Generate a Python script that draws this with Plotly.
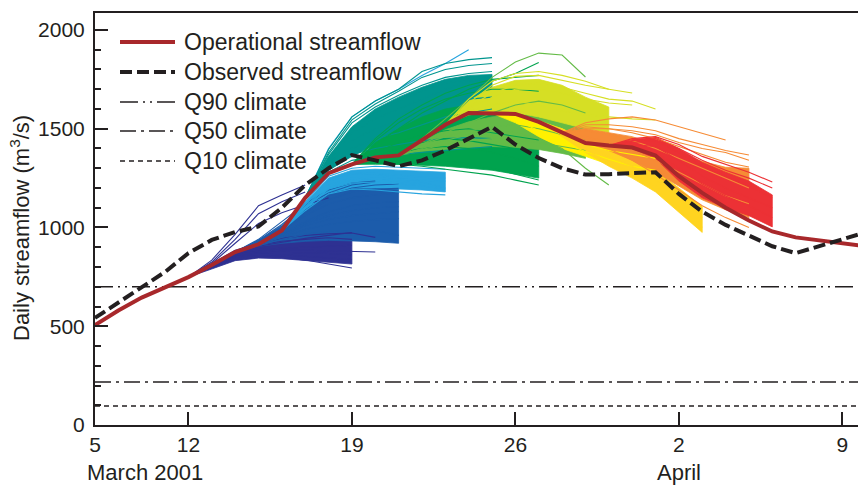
import plotly.graph_objects as go

FONT = "Liberation Sans, Arial, Helvetica, sans-serif"
INK = "#231F20"

# ---------------- data ----------------
# day numbers counted from 1 March 2001 (32 = 1 April)
days = [8, 9, 10, 11, 12, 13, 14, 15, 16, 17, 18, 19, 20, 21, 22, 23, 24, 25, 26,
        27, 28, 29, 30, 31, 32, 33, 34, 35, 36, 37, 38, 39, 40, 40.7]
operational = [506, 580, 645, 695, 749, 810, 876, 915, 985, 1150, 1275, 1320, 1355,
               1365, 1440, 1520, 1580, 1578, 1575, 1535, 1480, 1428, 1415, 1405, 1365,
               1260, 1175, 1100, 1035, 980, 950, 935, 920, 910]
observed = [542, 620, 699, 775, 870, 937, 977, 1005, 1100, 1215, 1300, 1367, 1340,
            1310, 1340, 1390, 1450, 1510, 1420, 1352, 1300, 1268, 1270, 1276, 1280,
            1170, 1080, 1013, 960, 905, 870, 905, 940, 965]

q90_climate = 700
q50_climate = 218
q10_climate = 96

xtick_vals = [8, 12, 19, 26, 33, 40]
xtick_text = ["5", "12", "19", "26", "2", "9"]
ytick_vals = [0, 500, 1000, 1500, 2000]

# ensemble forecasts: issue day, dense core (low/high) and individual members
navy_start = 12
navy_lo = [749, 790, 832, 845, 842, 835, 825, 815]
navy_hi = [749, 815, 880, 912, 930, 945, 955, 965]
navy_members = [
    [749, 835, 965, 1110, 1165, 1215],
    [749, 825, 940, 1070, 1130, 1180],
    [749, 818, 920, 1020, 1075, 1115, 1150],
    [749, 800, 850, 858, 850, 835, 815, 795],
    [749, 803, 852, 865, 862, 855, 845, 838],
    [749, 806, 858, 872, 875, 872, 868, 862],
    [749, 805, 860, 880, 885, 885, 882, 880, 876],
    [749, 810, 866, 888, 895, 900, 903, 910],
    [749, 814, 880, 912, 930, 940, 948, 940],
    [749, 816, 885, 920, 945, 960, 968, 972, 950],
    [749, 812, 875, 905, 925, 945, 960, 975],
]

blue_start = 14
blue_lo = [876, 905, 920, 930, 935, 932, 928, 920]
blue_hi = [876, 935, 1010, 1100, 1170, 1210, 1215, 1210]
blue_members = [
    [876, 940, 1030, 1120, 1190, 1225, 1235],
    [876, 935, 1015, 1110, 1175, 1215, 1230],
    [876, 930, 1000, 1090, 1160, 1200, 1215, 1220],
    [876, 928, 990, 1075, 1140, 1180, 1195, 1198],
    [876, 925, 985, 1060, 1120, 1150, 1165, 1175],
    [876, 920, 970, 1030, 1080, 1110, 1125, 1130],
    [876, 918, 965, 1020, 1060, 1085, 1100, 1105],
    [876, 915, 960, 1010, 1040, 1060, 1070, 1080],
    [876, 912, 950, 990, 1015, 1030, 1040, 1045],
    [876, 908, 940, 965, 980, 985, 985, 960],
]

lightblue_start = 16
lightblue_lo = [985, 1090, 1175, 1200, 1200, 1195, 1190, 1180]
lightblue_hi = [985, 1125, 1250, 1290, 1295, 1290, 1285, 1280]
lightblue_members = [
    [985, 1130, 1260, 1300, 1310, 1305, 1300, 1295],
    [985, 1120, 1240, 1280, 1270, 1250, 1230, 1200],
    [985, 1115, 1235, 1270, 1275, 1265, 1255, 1250],
    [985, 1105, 1215, 1250, 1245, 1235, 1220],
    [985, 1100, 1200, 1240, 1250, 1245, 1240, 1235],
    [985, 1095, 1195, 1225, 1230, 1220, 1210, 1195],
    [985, 1085, 1170, 1195, 1190, 1180, 1170, 1165],
    [985, 1150, 1400, 1560, 1640, 1700, 1770, 1830, 1900],
]

teal_start = 17
teal_lo = [1150, 1290, 1360, 1420, 1460, 1500, 1530, 1550, 1560]
teal_hi = [1150, 1360, 1510, 1600, 1660, 1710, 1750, 1770, 1775]
teal_members = [
    [1150, 1395, 1560, 1640, 1700, 1790, 1830, 1850, 1860],
    [1150, 1380, 1545, 1625, 1690, 1760, 1800, 1820, 1830],
    [1150, 1370, 1530, 1610, 1670, 1720, 1760, 1780, 1790],
    [1150, 1355, 1500, 1580, 1640, 1690, 1730, 1750, 1745],
    [1150, 1340, 1480, 1550, 1600, 1650, 1700, 1740, 1760],
    [1150, 1320, 1440, 1500, 1540, 1590, 1630, 1650, 1660],
    [1150, 1300, 1400, 1450, 1480, 1520, 1560, 1580, 1600],
    [1150, 1290, 1370, 1400, 1420, 1440, 1450, 1455, 1450],
    [1150, 1280, 1340, 1360, 1370, 1380, 1390, 1400, 1410],
]

green_start = 19
green_lo = [1320, 1320, 1320, 1315, 1310, 1300, 1290, 1270, 1250]
green_hi = [1320, 1430, 1500, 1560, 1600, 1620, 1630, 1620, 1600]
green_members = [
    [1320, 1420, 1500, 1580, 1640, 1700, 1740, 1780, 1835],
    [1320, 1450, 1550, 1620, 1680, 1720, 1750, 1760, 1770],
    [1320, 1440, 1530, 1600, 1650, 1680, 1700, 1700, 1690],
    [1320, 1380, 1430, 1470, 1490, 1500, 1480, 1460, 1443],
    [1320, 1360, 1400, 1430, 1450, 1440, 1420, 1400, 1380],
    [1320, 1350, 1380, 1400, 1410, 1400, 1380, 1350, 1310],
    [1320, 1330, 1340, 1350, 1340, 1320, 1300, 1270, 1240],
    [1320, 1325, 1320, 1310, 1295, 1280, 1265, 1240, 1215],
]

lightgreen_start = 21
lightgreen_lo = [1365, 1385, 1395, 1405, 1410, 1405, 1395, 1375, 1350]
lightgreen_hi = [1365, 1435, 1495, 1535, 1560, 1570, 1560, 1540, 1520]
lightgreen_members = [
    [1365, 1450, 1550, 1650, 1760, 1838, 1883, 1873, 1762],
    [1365, 1420, 1480, 1530, 1580, 1620, 1640, 1620, 1580],
    [1365, 1420, 1460, 1490, 1510, 1520, 1500, 1470, 1440],
    [1365, 1395, 1420, 1440, 1450, 1445, 1430, 1410, 1390],
    [1365, 1400, 1440, 1470, 1490, 1480, 1450, 1400, 1300, 1215],
]

yellowgreen_start = 23
yellowgreen_lo = [1520, 1570, 1585, 1580, 1560, 1530, 1500, 1480]
yellowgreen_hi = [1520, 1640, 1710, 1745, 1750, 1720, 1660, 1610]
yellowgreen_members = [
    [1520, 1650, 1740, 1780, 1790, 1770, 1740, 1700],
    [1520, 1630, 1720, 1765, 1770, 1745, 1720, 1700, 1681],
    [1520, 1610, 1680, 1720, 1730, 1710, 1680, 1650, 1640, 1600],
    [1520, 1600, 1660, 1700, 1700, 1680, 1650, 1630, 1620],
    [1520, 1590, 1620, 1640, 1620, 1590, 1570, 1560, 1550, 1544],
]

yellow_start = 25
yellow_lo = [1578, 1530, 1460, 1400, 1360, 1320, 1290, 1270]
yellow_hi = [1578, 1570, 1540, 1500, 1445, 1420, 1400, 1390]
yellow_members = [
    [1578, 1560, 1520, 1470, 1420, 1390, 1370, 1350],
    [1578, 1545, 1490, 1430, 1385, 1345, 1310, 1290],
]

gold_start = 27
gold_lo = [1535, 1460, 1380, 1310, 1250, 1180, 1080, 975]
gold_hi = [1535, 1500, 1440, 1390, 1350, 1290, 1200, 1105]
gold_members = [
    [1535, 1490, 1420, 1360, 1310, 1240, 1150, 1050],
    [1535, 1470, 1395, 1330, 1275, 1210, 1110, 1000],
]

orange_start = 28
orange_lo = [1480, 1430, 1390, 1340, 1280, 1210, 1140, 1090, 1050]
orange_hi = [1480, 1500, 1480, 1460, 1420, 1375, 1335, 1305, 1300]
orange_members = [
    [1480, 1530, 1550, 1560, 1544, 1510, 1480, 1443],
    [1480, 1520, 1520, 1510, 1490, 1450, 1420, 1390, 1367],
    [1480, 1510, 1500, 1490, 1470, 1430, 1400, 1380, 1340],
    [1480, 1500, 1500, 1480, 1450, 1410, 1370, 1330, 1306],
    [1480, 1490, 1470, 1440, 1400, 1350, 1300, 1250, 1200],
    [1480, 1460, 1430, 1390, 1340, 1280, 1220, 1160, 1120],
    [1480, 1440, 1400, 1340, 1270, 1190, 1110, 1050, 1000],
]

red_start = 30
red_lo = [1415, 1400, 1350, 1235, 1150, 1100, 1060, 1003]
red_hi = [1415, 1445, 1458, 1400, 1330, 1280, 1235, 1165]
red_members = [
    [1415, 1450, 1460, 1420, 1360, 1320, 1280, 1230],
    [1415, 1440, 1450, 1400, 1340, 1290, 1250, 1200],
    [1415, 1430, 1440, 1380, 1310, 1260, 1210, 1150],
    [1415, 1420, 1410, 1340, 1260, 1200, 1150, 1100],
    [1415, 1410, 1380, 1300, 1220, 1160, 1110, 1050],
]

groups = [
    (navy_start, navy_lo, navy_hi, navy_members, "#2E3192"),
    (blue_start, blue_lo, blue_hi, blue_members, "#1C5CAB"),
    (lightblue_start, lightblue_lo, lightblue_hi, lightblue_members, "#27A4DF"),
    (teal_start, teal_lo, teal_hi, teal_members, "#00958E"),
    (green_start, green_lo, green_hi, green_members, "#00A34E"),
    (lightgreen_start, lightgreen_lo, lightgreen_hi, lightgreen_members, "#64BB47"),
    (yellowgreen_start, yellowgreen_lo, yellowgreen_hi, yellowgreen_members, "#D6DF24"),
    (yellow_start, yellow_lo, yellow_hi, yellow_members, "#FFF100"),
    (gold_start, gold_lo, gold_hi, gold_members, "#FFD420"),
    (orange_start, orange_lo, orange_hi, orange_members, "#F68B35"),
    (red_start, red_lo, red_hi, red_members, "#EC3135"),
]

OP_COLOR = "#A8282B"

# ---------------- figure ----------------
fig = go.Figure()

# dense ensemble cores
for start, lo, hi, members, color in groups:
    xs = [start + i for i in range(len(hi))]
    fig.add_trace(go.Scatter(
        x=xs + xs[::-1], y=hi + lo[::-1], mode="lines", fill="toself",
        fillcolor=color, line=dict(color=color, width=0.8), hoverinfo="skip"))

# individual ensemble members
for start, lo, hi, members, color in groups:
    for m in members:
        fig.add_trace(go.Scatter(
            x=[start + i for i in range(len(m))], y=m, mode="lines",
            line=dict(color=color, width=1.1), hoverinfo="skip"))

fig.add_trace(go.Scatter(x=days, y=operational, mode="lines",
                         line=dict(color=OP_COLOR, width=4)))
fig.add_trace(go.Scatter(x=days, y=observed, mode="lines",
                         line=dict(color=INK, width=4, dash="12px,5px")))

# climate lines
Q90_DASH = "18px,5px,2px,5px,2px,5px"
Q50_DASH = "16px,5px,3px,5px"
Q10_DASH = "5px,4px"
for val, dash in [(q90_climate, Q90_DASH), (q50_climate, Q50_DASH), (q10_climate, Q10_DASH)]:
    fig.add_shape(type="line", xref="paper", x0=0, x1=1, yref="y", y0=val, y1=val,
                  line=dict(color=INK, width=1.5, dash=dash), layer="below")

# legend (drawn manually)
PW, PH, L, B = 763.0, 412.0, 95.0, 425.0
def px(xp):
    return (xp - L) / PW
def py(yp):
    return (B - yp) / PH

legend_rows = [
    ("Operational streamflow", dict(color=OP_COLOR, width=4), 42),
    ("Observed streamflow", dict(color=INK, width=4, dash="12px,5px"), 72),
    ("Q90 climate", dict(color=INK, width=1.5, dash=Q90_DASH), 102),
    ("Q50 climate", dict(color=INK, width=1.5, dash=Q50_DASH), 131),
    ("Q10 climate", dict(color=INK, width=1.5, dash=Q10_DASH), 161),
]
for label, ln, yp in legend_rows:
    fig.add_shape(type="line", xref="paper", yref="paper",
                  x0=px(120), x1=px(175), y0=py(yp), y1=py(yp), line=ln)
    fig.add_annotation(text=label, xref="paper", yref="paper", x=px(182), y=py(yp),
                       xanchor="left", yanchor="middle", showarrow=False,
                       font=dict(family=FONT, size=23, color=INK))

fig.add_annotation(text="March 2001", xref="paper", yref="paper", x=px(145), y=py(472),
                   xanchor="center", yanchor="middle", showarrow=False,
                   font=dict(family=FONT, size=22, color=INK))
fig.add_annotation(text="April", xref="x", yref="paper", x=33, y=py(472),
                   xanchor="center", yanchor="middle", showarrow=False,
                   font=dict(family=FONT, size=22, color=INK))
fig.add_annotation(text="Daily streamflow (m<sup>3</sup>/s)", xref="paper", yref="paper",
                   x=px(20), y=py(228), xanchor="center", yanchor="middle",
                   textangle=-90, showarrow=False,
                   font=dict(family=FONT, size=22, color=INK))

fig.update_layout(
    width=859, height=490,
    margin=dict(l=95, r=1, t=13, b=65),
    plot_bgcolor="white", paper_bgcolor="white",
    showlegend=False,
    font=dict(family=FONT, size=22, color=INK),
    xaxis=dict(range=[8.0, 40.67], tickvals=xtick_vals, ticktext=xtick_text,
               ticks="inside", ticklen=13, tickwidth=1.5, tickcolor=INK,
               showline=True, linewidth=2, linecolor=INK, mirror=True,
               showgrid=False, zeroline=False,
               tickfont=dict(family=FONT, size=21, color=INK)),
    yaxis=dict(range=[0, 2086], tickvals=ytick_vals,
               ticks="inside", ticklen=13, tickwidth=1.5, tickcolor=INK,
               showline=True, linewidth=2, linecolor=INK,
               showgrid=False, zeroline=False, ticklabelstandoff=4,
               minor=dict(dtick=100, ticks="inside", ticklen=6, tickwidth=1.5,
                          tickcolor=INK),
               tickfont=dict(family=FONT, size=21, color=INK)),
)

fig.write_html("out.html")
